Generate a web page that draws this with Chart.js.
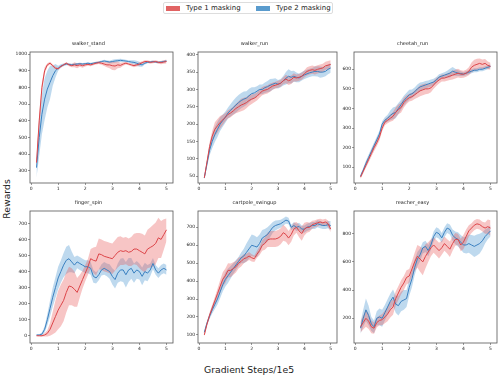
<!DOCTYPE html>
<html>
<head>
<meta charset="utf-8">
<script src="https://cdn.jsdelivr.net/npm/chart.js@4/dist/chart.umd.min.js"></script>
<style>
  body { margin: 0; width: 498px; height: 377px; position: relative; background: #fff; font-family: "DejaVu Sans", sans-serif; overflow: hidden; }
  canvas { position: absolute; }
  .legend { position: absolute; left: 163px; top: 2px; width: 170px; height: 12px; border: 1px solid #ddd; border-radius: 2px; box-sizing: border-box; font-size: 7px; color: #222; }
  .legend span { position: absolute; top: 1px; line-height: 9px; }
  .legend i { position: absolute; top: 3px; width: 14px; height: 5px; }
  .xlabel { position: absolute; left: 0; width: 498px; top: 364px; text-align: center; font-size: 9.3px; color: #222; }
  .ylabel { position: absolute; left: 6px; top: 199px; font-size: 9.3px; color: #222; transform: translate(-50%, -50%) rotate(-90deg); white-space: nowrap; }
</style>
</head>
<body>
<div class="legend">
  <i style="left:2px;background:rgba(222,82,82,0.9)"></i><span style="left:22px">Type 1 masking</span>
  <i style="left:92px;background:rgba(72,144,200,0.9)"></i><span style="left:112px">Type 2 masking</span>
</div>
<div class="ylabel">Rewards</div>
<div class="xlabel">Gradient Steps/1e5</div>
<script>
// x positions (gradient steps / 1e5)
const steps = [0.2,0.3,0.4,0.5,0.6,0.7,0.8,0.9,1.0,1.1,
  1.2,1.3,1.4,1.5,1.6,1.7,1.8,1.9,2.0,2.1,
  2.2,2.3,2.4,2.5,2.6,2.7,2.8,2.9,3.0,3.1,
  3.2,3.3,3.4,3.5,3.6,3.7,3.8,3.9,4.0,4.1,
  4.2,4.3,4.4,4.5,4.6,4.7,4.8,4.9,5.0];

const titles = ['walker_stand', 'walker_run', 'cheetah_run', 'finger_spin', 'cartpole_swingup', 'reacher_easy'];
const xTicks = [0, 1, 2, 3, 4, 5];

const standTicks = [300, 400, 500, 600, 700, 800, 900, 1000];
const runTicks = [50, 100, 150, 200, 250, 300, 350, 400];
const cheetahTicks = [100, 200, 300, 400, 500, 600];
const fingerTicks = [0, 100, 200, 300, 400, 500, 600, 700];
const cartpoleTicks = [100, 200, 300, 400, 500, 600, 700];
const reacherTicks = [200, 400, 600, 800];

// walker_stand
const standT1 = [350,600,800,900,935,945,930,915,912,925,
  935,945,935,930,935,930,935,930,935,938,
  935,940,945,948,945,940,935,935,930,928,
  935,932,940,945,940,935,930,935,940,948,
  955,955,950,952,955,950,948,952,955];
const standT1Sd = [30,40,30,20,10,8,8,8,6,6,
  6,6,8,10,15,15,12,12,10,8,
  8,8,8,8,10,12,15,20,25,25,
  20,15,10,8,8,8,10,10,10,8,
  8,8,8,8,8,8,10,10,12];
const standT2 = [320,500,640,730,790,830,870,900,915,928,
  935,940,938,935,938,940,942,940,942,945,
  942,945,948,950,955,958,955,952,955,958,
  960,962,960,958,955,952,950,945,938,935,
  945,950,952,955,952,950,952,955,958];
const standT2Sd = [60,110,120,125,110,100,60,40,15,10,
  8,8,6,6,6,6,6,6,6,6,
  6,6,6,6,6,8,8,8,10,10,
  10,10,8,8,8,10,12,15,15,12,
  8,6,6,6,6,6,6,6,6];

// walker_run
const runT1 = [45,90,135,165,185,195,205,212,220,228,
  232,238,245,250,255,258,262,268,272,275,
  280,288,295,298,300,305,310,312,315,318,
  325,330,325,328,335,333,335,338,345,352,
  355,357,355,358,360,362,368,370,372];
const runT1Sd = [5,8,12,15,20,20,18,15,12,12,
  12,12,14,16,18,18,16,15,14,12,
  12,12,12,12,12,12,10,10,10,10,
  10,12,12,12,12,10,10,10,10,12,
  12,12,12,12,12,12,12,12,12];
const runT2 = [45,85,125,150,170,185,200,210,220,232,
  240,248,255,262,268,272,275,282,288,290,
  295,300,300,305,308,312,315,318,315,318,
  325,332,338,335,338,335,333,338,342,345,
  348,350,352,352,350,350,352,358,362];
const runT2Sd = [5,10,15,20,22,22,20,18,16,16,
  18,20,22,22,22,22,20,20,18,16,
  14,14,14,15,16,18,16,14,12,12,
  14,18,20,18,16,14,12,12,12,12,
  12,12,14,15,16,15,14,14,14];

// cheetah_run
const cheetahT1 = [50,80,110,140,170,200,225,255,300,330,
  340,350,360,380,395,405,430,445,455,460,
  470,480,490,495,500,500,505,520,535,545,
  555,555,560,565,570,575,580,575,575,580,
  590,610,620,625,630,625,630,620,615];
const cheetahT1Sd = [10,12,14,15,16,18,18,18,16,15,
  15,18,22,25,25,25,25,22,20,20,
  22,25,28,28,28,25,22,20,20,18,
  18,18,18,20,22,22,22,20,18,18,
  20,25,28,28,25,25,22,20,18];
const cheetahT2 = [55,85,120,150,180,210,240,270,320,340,
  350,365,375,380,400,420,440,455,470,475,
  485,500,510,515,520,525,530,535,545,560,
  565,570,575,580,590,585,580,578,575,580,
  585,590,595,595,600,600,605,610,615];
const cheetahT2Sd = [10,12,14,15,16,16,16,16,15,15,
  18,25,30,30,28,25,25,25,25,22,
  22,22,22,20,20,18,18,16,16,15,
  15,15,18,22,22,18,15,12,10,10,
  10,10,10,10,10,10,10,10,10];

// finger_spin
const fingerT1 = [0,0,0,5,15,40,80,120,160,190,
  220,270,310,305,290,270,310,350,390,430,
  480,470,465,510,505,495,490,485,480,500,
  520,530,525,530,520,525,540,540,530,520,
  510,540,550,560,575,610,600,630,660];
const fingerT1Sd = [2,3,5,10,20,40,70,100,120,130,
  130,125,120,115,110,90,70,55,50,50,
  60,80,90,95,95,95,95,95,95,95,
  95,90,85,85,85,90,95,100,110,115,
  115,120,125,130,130,125,115,95,70];
const fingerT2 = [5,5,10,40,100,170,240,300,360,400,
  440,470,480,460,440,460,450,440,430,430,
  420,370,360,380,410,420,410,400,370,350,
  390,410,410,380,410,420,390,410,400,370,
  400,390,410,450,410,390,410,420,410];
const fingerT2Sd = [3,5,10,20,35,50,60,65,70,70,
  75,85,85,65,50,40,40,40,40,40,
  40,40,35,35,35,40,40,45,50,55,
  60,70,75,80,75,65,60,55,50,55,
  55,50,40,35,30,30,30,30,30];

// cartpole_swingup
const cartpoleT1 = [100,160,210,250,290,330,370,410,430,460,
  460,470,480,500,510,525,530,540,530,525,
  550,570,600,610,630,635,635,635,640,650,
  670,660,640,660,690,700,680,665,690,700,
  700,715,720,725,730,725,730,720,690];
const cartpoleT1Sd = [10,12,15,18,22,28,35,40,40,40,
  38,35,32,30,28,25,22,22,20,18,
  20,25,30,35,40,45,45,45,45,45,
  45,40,40,40,35,30,35,40,35,30,
  25,22,20,20,18,18,18,18,18];
const cartpoleT2 = [115,165,205,240,270,300,340,380,410,430,
  450,470,490,510,530,540,560,580,600,595,
  590,610,640,650,660,680,700,710,715,720,
  730,740,735,700,710,700,705,690,690,700,
  705,710,710,720,715,710,710,715,710];
const cartpoleT2Sd = [10,12,15,20,25,30,35,38,40,40,
  35,30,28,25,30,40,50,55,60,60,
  55,50,45,40,40,35,30,28,25,22,
  20,20,18,15,18,20,20,20,20,20,
  20,20,20,20,20,20,20,20,25];

// reacher_easy
const reacherT1 = [140,170,200,180,140,130,170,185,190,210,
  230,260,280,340,380,420,450,490,500,550,
  600,640,620,600,640,670,700,720,700,680,
  700,730,710,690,730,760,760,720,740,780,
  820,840,860,870,865,850,840,850,840];
const reacherT1Sd = [40,50,60,55,45,40,35,35,40,45,
  50,55,55,50,50,50,50,50,50,55,
  65,80,90,95,85,70,60,55,55,55,
  50,50,50,55,50,45,40,45,50,50,
  40,35,35,35,35,35,40,50,55];
const reacherT2 = [130,200,260,220,160,140,200,210,200,240,
  280,320,350,300,290,320,330,340,420,480,
  560,620,650,700,710,680,720,780,810,800,
  770,810,840,830,790,770,760,740,720,720,
  730,720,710,720,730,750,780,800,820];
const reacherT2Sd = [40,60,80,70,50,45,50,60,60,55,
  55,55,55,60,70,70,70,60,60,60,
  55,50,45,40,40,40,35,35,35,35,
  35,35,35,35,40,45,50,50,55,60,
  65,70,75,75,70,60,50,40,40];

const panels = [
  { t1: standT1, t1sd: standT1Sd, t2: standT2, t2sd: standT2Sd, ticks: standTicks, min: 228, max: 1012 },
  { t1: runT1, t1sd: runT1Sd, t2: runT2, t2sd: runT2Sd, ticks: runTicks, min: 30, max: 408 },
  { t1: cheetahT1, t1sd: cheetahT1Sd, t2: cheetahT2, t2sd: cheetahT2Sd, ticks: cheetahTicks, min: 20, max: 688 },
  { t1: fingerT1, t1sd: fingerT1Sd, t2: fingerT2, t2sd: fingerT2Sd, ticks: fingerTicks, min: -45, max: 777 },
  { t1: cartpoleT1, t1sd: cartpoleT1Sd, t2: cartpoleT2, t2sd: cartpoleT2Sd, ticks: cartpoleTicks, min: 55, max: 791 },
  { t1: reacherT1, t1sd: reacherT1Sd, t2: reacherT2, t2sd: reacherT2Sd, ticks: reacherTicks, min: 25, max: 961 }
];

const RED = '#dc4448', RED_FILL = 'rgba(232,90,90,0.35)';
const BLUE = '#3a80c0', BLUE_FILL = 'rgba(70,145,205,0.35)';
const FONT = 'DejaVu Sans';

// plot area placement
const plotLeft = [30, 198, 354], plotRight = [173, 337, 497];
const plotTop = [52, 211], plotBottom = [183, 343];
const YW = 26, TH = 12, XH = 10;

const pts = (ys) => steps.map((x, i) => ({ x: x, y: ys[i] }));
const band = (ys, sd, sign) => steps.map((x, i) => ({ x: x, y: ys[i] + sign * sd[i] }));

const frame = {
  id: 'frame',
  afterDraw(chart) {
    const a = chart.chartArea, ctx = chart.ctx;
    ctx.save();
    ctx.strokeStyle = '#555';
    ctx.lineWidth = 0.8;
    ctx.strokeRect(a.left, a.top, a.right - a.left, a.bottom - a.top);
    ctx.restore();
  }
};

panels.forEach((p, i) => {
  const col = i % 3, row = Math.floor(i / 3);
  const cv = document.createElement('canvas');
  const w = plotRight[col] - plotLeft[col] + YW + 1;
  const h = plotBottom[row] - plotTop[row] + TH + XH;
  cv.width = w; cv.height = h;
  cv.style.left = (plotLeft[col] - YW) + 'px';
  cv.style.top = (plotTop[row] - TH) + 'px';
  cv.style.width = w + 'px'; cv.style.height = h + 'px';
  document.body.appendChild(cv);

  const line = (data, color) => ({ data, borderColor: color, borderWidth: 1, pointRadius: 0, fill: false, tension: 0 });
  const edge = (data, fillTo, color) => ({ data, borderWidth: 0, borderColor: 'rgba(0,0,0,0)', pointRadius: 0, fill: fillTo, backgroundColor: color, tension: 0 });

  new Chart(cv.getContext('2d'), {
    type: 'line',
    data: {
      datasets: [
        line(pts(p.t1), RED),
        line(pts(p.t2), BLUE),
        edge(band(p.t1, p.t1sd, 1), false, RED_FILL),
        edge(band(p.t1, p.t1sd, -1), '-1', RED_FILL),
        edge(band(p.t2, p.t2sd, 1), false, BLUE_FILL),
        edge(band(p.t2, p.t2sd, -1), '-1', BLUE_FILL)
      ]
    },
    options: {
      responsive: false,
      animation: false,
      devicePixelRatio: 1,
      layout: { padding: { left: 0, right: 1, top: 0, bottom: 0 } },
      plugins: {
        legend: { display: false },
        tooltip: { enabled: false },
        title: { display: true, text: titles[i], color: '#222', font: { family: FONT, size: 5, weight: 'normal' }, padding: { top: 1, bottom: 5 } }
      },
      scales: {
        x: {
          type: 'linear', min: -0.04, max: 5.24,
          afterBuildTicks: (s) => { s.ticks = xTicks.map(v => ({ value: v })); },
          afterFit: (s) => { s.height = XH; },
          border: { display: false },
          grid: { drawOnChartArea: false, drawTicks: true, tickLength: 2, color: '#555', lineWidth: 0.6 },
          ticks: { color: '#222', font: { family: FONT, size: 4.5 }, padding: 1, maxRotation: 0, callback: (v) => String(v) }
        },
        y: {
          min: p.min, max: p.max,
          afterBuildTicks: (s) => { s.ticks = p.ticks.map(v => ({ value: v })); },
          afterFit: (s) => { s.width = YW; },
          border: { display: false },
          grid: { drawOnChartArea: false, drawTicks: true, tickLength: 2, color: '#555', lineWidth: 0.6 },
          ticks: { color: '#222', font: { family: FONT, size: 4.5 }, padding: 1, callback: (v) => String(v) }
        }
      }
    },
    plugins: [frame]
  });
});
</script>
</body>
</html>
